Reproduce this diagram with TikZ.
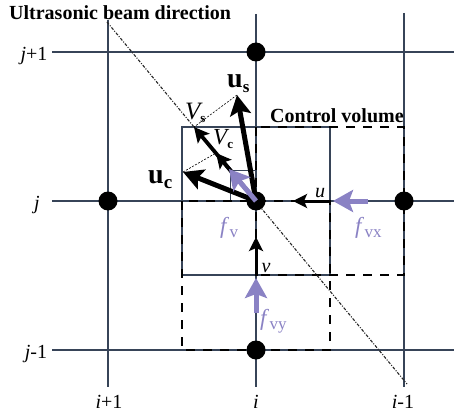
\documentclass[tikz,border=0pt]{standalone}
\usepackage{fontspec}
\setmainfont{Liberation Serif}
\usetikzlibrary{arrows.meta}
\definecolor{fvc}{RGB}{138,130,196}
\definecolor{gridc}{RGB}{55,68,88}
\begin{document}
\begin{tikzpicture}[x=1pt,y=-1pt,
  gridline/.style={draw=gridc,line width=1.1pt},
  cvline/.style={draw=black,line width=2.8pt,dash pattern=on 9pt off 8pt},
  dot/.style={circle,fill=black,inner sep=0pt,minimum size=19pt},
  beam/.style={draw=black!85,line width=1.1pt,dash pattern=on 3pt off 1.5pt on 1pt off 1.5pt},
  proj/.style={draw=black,line width=0.6pt,dash pattern=on 2pt off 1.5pt},
  bigarrow/.style={draw=black,line width=5pt,-{Stealth[length=20pt,width=21pt,inset=4pt]}},
  midarrow/.style={draw=black,line width=3.8pt,-{Stealth[length=15pt,width=15pt,inset=3pt]}},
  smallarrow/.style={draw=black,line width=3pt,-{Stealth[length=14pt,width=14pt,inset=3pt]}},
  purplearrow/.style={draw=fvc,line width=5pt,-{Stealth[length=20pt,width=22pt,inset=4pt]}},
  idx/.style={anchor=base,font=\fontsize{20}{20}\selectfont},
  lbl/.style={anchor=base west,inner sep=0pt},
]
\useasboundingbox (0,0) rectangle (454,414);
% grid
\draw[gridline] (52,52) -- (454,52);
\draw[gridline] (52,201) -- (454,201);
\draw[gridline] (52,350) -- (454,350);
\draw[gridline] (108,20) -- (108,387);
\draw[gridline] (256,14) -- (256,387);
\draw[gridline] (404,13) -- (404,387);
% solid control square and f_v components box
\draw[gridline] (182,127) rectangle (330,275);
\draw[draw=gridc,line width=0.8pt] (230,170) rectangle (256,201);
% dashed control volumes
\draw[cvline] (256,127) rectangle (404,275);
\draw[cvline] (182,201) rectangle (330,350);
% beam direction
\coordinate (b1) at (107,22);
\coordinate (b2) at (407,384);
\draw[beam] (b1) -- (b2);
% nodes
\node[dot] (nt) at (256,52) {};
\node[dot] (nl) at (108,201) {};
\node[dot] (nc) at (256,201) {};
\node[dot] (nr) at (404,201) {};
\node[dot] (nb) at (256,350) {};
% tips
\coordinate (us) at (237,95);
\coordinate (uc) at (183,172);
\coordinate (vs) at (194,127);
\coordinate (vc) at (216,153);
\coordinate (fv) at (229,169);
\coordinate (uf) at (331,201);
\coordinate (ut) at (293,201);
\coordinate (fxs) at (368,201);
\coordinate (fxt) at (333,201);
\coordinate (vf) at (256,276);
\coordinate (vt) at (256,237);
\coordinate (fys) at (256,313);
\coordinate (fyt) at (256,278);
% projection lines
\draw[proj] (us) -- (vs);
\draw[proj] (uc) -- (vc);
% arrows
\draw[midarrow] (nc.center) -- (vs);
\draw[midarrow] (nc.center) -- (vc);
\draw[bigarrow] (nc.center) -- (us);
\draw[bigarrow] (nc.center) -- (uc);
\draw[purplearrow] (nc.center) -- (fv);
\draw[smallarrow] (uf) -- (ut);
\draw[purplearrow] (fxs) -- (fxt);
\draw[smallarrow] (vf) -- (vt);
\draw[purplearrow] (fys) -- (fyt);
% texts
\node[lbl,font=\bfseries\fontsize{20}{20}\selectfont] (title) at (9,20) {Ultrasonic beam direction};
\node[lbl,font=\bfseries\fontsize{20}{20}\selectfont] (cv) at (270,123) {Control volume};
\node[idx] (jp) at (34,61) {{\itshape j}+1};
\node[idx] (j0) at (37,209) {\itshape j};
\node[idx] (jm) at (36,358) {{\itshape j}-1};
\node[idx] (ip) at (109,408) {{\itshape i}+1};
\node[idx] (i0) at (256,408) {\itshape i};
\node[idx] (im) at (403,408) {{\itshape i}-1};
\node[lbl,font=\bfseries\fontsize{28}{28}\selectfont] (lus) at (227,88) {u\raisebox{-5pt}{\fontsize{17}{17}\selectfont s}};
\node[lbl,font=\bfseries\fontsize{28}{28}\selectfont] (luc) at (148,183) {u\raisebox{-5pt}{\fontsize{19}{19}\selectfont c}};
\node[lbl,font=\itshape\fontsize{25}{25}\selectfont] (lvs) at (185,120) {V\raisebox{-3pt}{\fontsize{13}{13}\selectfont\upshape\bfseries s}};
\node[lbl,font=\itshape\fontsize{23}{23}\selectfont] (lvc) at (213,145) {V\raisebox{-3pt}{\fontsize{13}{13}\selectfont\upshape\bfseries c}};
\node[idx] (lu) at (320,197) {\itshape u};
\node[idx] (lv) at (266,272) {\itshape v};
\node[lbl,text=fvc,font=\itshape\fontsize{23}{23}\selectfont] (lfv) at (220,233) {f\kern3pt\raisebox{-4pt}{\fontsize{17}{17}\selectfont\upshape v}};
\node[lbl,text=fvc,font=\itshape\fontsize{23}{23}\selectfont] (lfx) at (355,233) {f\kern3pt\raisebox{-4pt}{\fontsize{17}{17}\selectfont\upshape vx}};
\node[lbl,text=fvc,font=\itshape\fontsize{23}{23}\selectfont] (lfy) at (260,325) {f\kern3pt\raisebox{-4pt}{\fontsize{17}{17}\selectfont\upshape vy}};
\end{tikzpicture}
\end{document}
